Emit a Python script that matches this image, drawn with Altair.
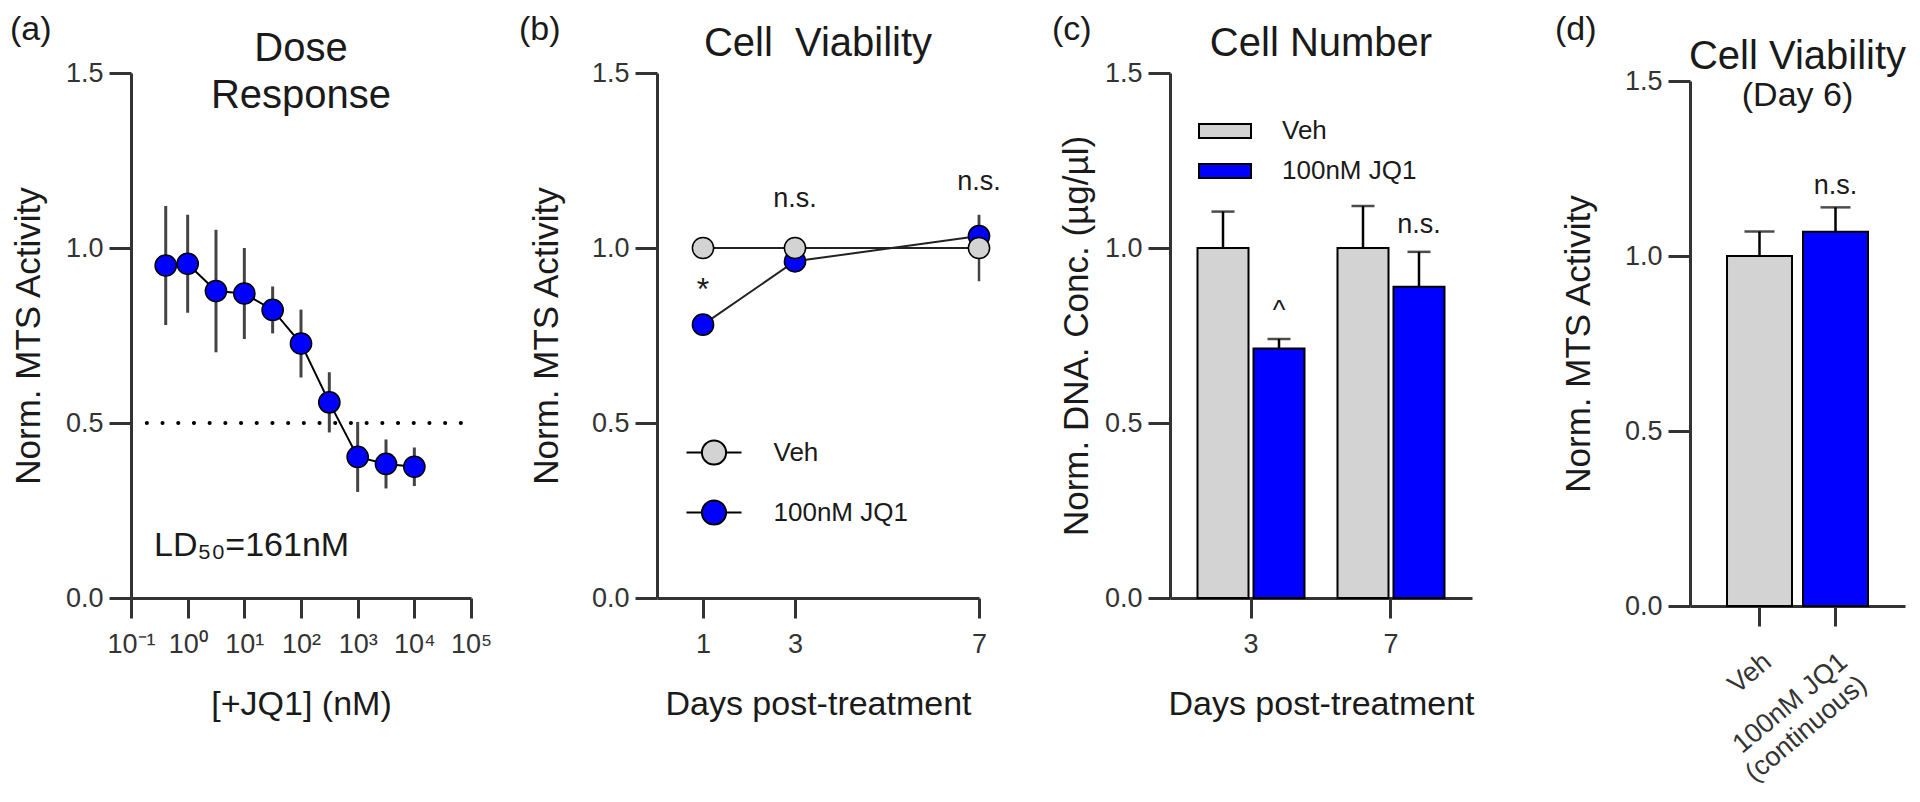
import altair as alt
import pandas as pd

SANS = "Liberation Sans, Arial, Helvetica, sans-serif"
INK = "#1a1a1a"
AXIS = "#333333"
GREY = "#d3d3d3"
BLUE = "#0000ff"

# ---------------- data ----------------
# (a) dose response
dose_nm = [0.41, 1.0, 3.16, 10.0, 31.6, 100.0, 316.0, 1000.0, 3162.0, 10000.0]
dose_mts = [0.950, 0.955, 0.877, 0.870, 0.823, 0.727, 0.559, 0.403, 0.383, 0.375]
dose_sd = [0.170, 0.140, 0.175, 0.130, 0.067, 0.097, 0.086, 0.100, 0.070, 0.055]
half_line_x = [0.19, 68000.0]
half_line_y = [0.5, 0.5]
dose_ticks = [0.1, 1, 10, 100, 1000, 10000, 100000]
dose_tick_labels = ["10⁻¹", "10⁰", "10¹", "10²", "10³", "10⁴", "10⁵"]
ld50_text = ["LD₅₀=161nM"]
ld50_x = [0.255]
ld50_y = [0.149]

# (b) cell viability time course
series = ["Veh", "100nM JQ1"]
days = [1, 3, 7]
veh_mts = [1.0, 1.0, 1.0]
veh_sd = [0.02, 0.02, 0.095]
jq1_mts = [0.781, 0.962, 1.034]
jq1_sd = [0.015, 0.02, 0.06]
b_star_day = [1]
b_star_y = [0.88]
b_ns_day = [3, 7]
b_ns_y = [1.14, 1.19]

# (c) cell number
cn_days = ["3", "7"]
cn_veh = [1.0, 1.0]
cn_veh_sd = [0.104, 0.12]
cn_jq1 = [0.713, 0.889]
cn_jq1_sd = [0.027, 0.10]
c_note_day = ["3", "7"]
c_note_text = ["^", "n.s."]
c_note_y = [0.82, 1.067]

# (d) cell viability day 6
d_groups = ["Veh", "100nM JQ1|(continuous)"]
d_vals = [1.0, 1.069]
d_sd = [0.07, 0.07]
d_note_group = ["100nM JQ1|(continuous)"]
d_note_text = ["n.s."]
d_note_y = [1.2]

Y_TICKS = [0, 0.5, 1.0, 1.5]
PLOT_H = 525


# ---------------- helpers ----------------
def yscale():
    return alt.Scale(domain=[0, 1.5], nice=False)


def yaxis(title, pad):
    return alt.Axis(title=title, values=Y_TICKS, format=".1f", tickSize=22,
                    labelPadding=6, titlePadding=pad, titleFontSize=35)


def letter(txt, dx, dy):
    return alt.Chart(pd.DataFrame({"t": [txt]})).mark_text(
        align="left", baseline="alphabetic", fontSize=34, font=SANS, color=INK
    ).encode(text="t:N", x=alt.value(dx), y=alt.value(dy))


def title(text, offset, subtitle=None):
    kw = dict(text=text, font=SANS, fontSize=40, fontWeight="normal", color=INK,
              anchor="middle", frame="group", baseline="top", offset=offset,
              lineHeight=47)
    if subtitle:
        kw.update(subtitle=subtitle, subtitleFont=SANS, subtitleFontSize=34,
                  subtitleColor=INK, subtitlePadding=2, subtitleFontWeight="normal")
    return alt.TitleParams(**kw)


def spacer(w, h):
    return alt.Chart(pd.DataFrame({"v": [0]})).mark_point(opacity=0).encode(
        x=alt.X("v:Q", axis=None), y=alt.Y("v:Q", axis=None)
    ).properties(width=w, height=h)


XAX = dict(tickSize=20, labelPadding=13, titlePadding=30, titleFontSize=34,
           labelFlush=False, labelOverlap=False)

# ---------------- (a) ----------------
dfa = pd.DataFrame({"dose": dose_nm, "mts": dose_mts, "sd": dose_sd})
dfa["lo"] = dfa["mts"] - dfa["sd"]
dfa["hi"] = dfa["mts"] + dfa["sd"]

parts = [f"datum.value < {v * 3.1623:.6g} ? '{l}'" for v, l in zip(dose_ticks[:-1], dose_tick_labels[:-1])]
label_expr = " : ".join(parts + [f"'{dose_tick_labels[-1]}'"])

xa = alt.X("dose:Q", scale=alt.Scale(type="log", domain=[0.1, 100000], nice=False),
           axis=alt.Axis(title="[+JQ1] (nM)", values=dose_ticks, labelExpr=label_expr, **XAX))
ya_ax = yaxis("Norm. MTS Activity", 19)
ya = alt.Y("mts:Q", scale=yscale(), axis=ya_ax)

half_line = alt.Chart(pd.DataFrame({"dose": half_line_x, "mts": half_line_y})).mark_line(
    color="black", strokeWidth=4, strokeDash=[0.1, 15.6], strokeCap="round"
).encode(x=xa, y=ya)
err_a = alt.Chart(dfa).mark_rule(color="#444444", strokeWidth=3).encode(
    x=xa, y=alt.Y("lo:Q", scale=yscale(), axis=ya_ax), y2="hi:Q")
line_a = alt.Chart(dfa).mark_line(color="black", strokeWidth=2).encode(x=xa, y=ya)
pts_a = alt.Chart(dfa).mark_point(shape="circle", filled=True, size=450, fill=BLUE,
                                   stroke="black", strokeWidth=1.5, opacity=1).encode(x=xa, y=ya)
ld_txt = alt.Chart(pd.DataFrame({"dose": ld50_x, "mts": ld50_y, "t": ld50_text})).mark_text(
    align="left", baseline="middle", fontSize=34, font=SANS, color=INK
).encode(x=xa, y=ya, text="t:N")

panel_a = alt.layer(half_line, err_a, line_a, pts_a, ld_txt, letter("(a)", -121, -33)).properties(
    width=340, height=PLOT_H, title=title(["Dose", "Response"], -103))

# ---------------- (b) ----------------
rows = []
for s, vals, sds in [(series[1], jq1_mts, jq1_sd), (series[0], veh_mts, veh_sd)]:
    for d, v, e in zip(days, vals, sds):
        rows.append({"day": d, "mts": v, "lo": v - e, "hi": v + e, "grp": s})
dfb = pd.DataFrame(rows)

xb = alt.X("day:Q", scale=alt.Scale(domain=[0, 7], nice=False),
           axis=alt.Axis(title="Days post-treatment", values=days, format="d", **XAX))
yb_ax = yaxis("Norm. MTS Activity", 27)
yb = alt.Y("mts:Q", scale=yscale(), axis=yb_ax)

LINE_DOT = ("M-1,0L-0.44,0M0.44,0L1,0M-0.44,0A0.44,0.44,0,1,1,0.44,0"
            "A0.44,0.44,0,1,1,-0.44,0Z")
leg_b = alt.Legend(title=None, orient="none", legendX=28.5, legendY=351,
                   symbolType=LINE_DOT, symbolSize=3025, symbolStrokeColor="black",
                   symbolStrokeWidth=2, labelFontSize=26, labelFont=SANS, labelColor=INK,
                   labelOffset=31, rowPadding=15, padding=0)

err_b = alt.Chart(dfb).mark_rule(color="#444444", strokeWidth=2.5).encode(
    x=xb, y=alt.Y("lo:Q", scale=yscale(), axis=yb_ax), y2="hi:Q")
line_b = alt.Chart(dfb).mark_line(color="#222222", strokeWidth=2).encode(
    x=xb, y=yb, detail="grp:N")
pts_b = alt.Chart(dfb).mark_point(shape="circle", filled=True, size=450, stroke="black",
                                   strokeWidth=1.5, opacity=1).encode(
    x=xb, y=yb,
    fill=alt.Fill("grp:N", scale=alt.Scale(domain=series, range=[GREY, BLUE]), legend=leg_b))
star_b = alt.Chart(pd.DataFrame({"day": b_star_day, "mts": b_star_y, "t": ["*"]})).mark_text(
    fontSize=32, font=SANS, color=INK, baseline="middle").encode(x=xb, y=yb, text="t:N")
ns_b = alt.Chart(pd.DataFrame({"day": b_ns_day, "mts": b_ns_y, "t": ["n.s."] * len(b_ns_day)})).mark_text(
    fontSize=27, font=SANS, color=INK, baseline="middle").encode(x=xb, y=yb, text="t:N")

panel_b = alt.layer(err_b, line_b, pts_b, star_b, ns_b, letter("(b)", -138, -33)).properties(
    width=322, height=PLOT_H, title=title("Cell\u00a0 Viability", -51))

# ---------------- (c) ----------------
rows = []
for i, d in enumerate(cn_days):
    rows.append({"day": d, "grp": series[0], "val": cn_veh[i], "hi": cn_veh[i] + cn_veh_sd[i]})
    rows.append({"day": d, "grp": series[1], "val": cn_jq1[i], "hi": cn_jq1[i] + cn_jq1_sd[i]})
dfc = pd.DataFrame(rows)

xc = alt.X("day:N", scale=alt.Scale(domain=cn_days, paddingInner=0.2, paddingOuter=0.1786),
           axis=alt.Axis(title="Days post-treatment", labelAngle=0, ticks=True, **XAX))
xoc = alt.XOffset("grp:N", scale=alt.Scale(domain=series, paddingInner=0.089, paddingOuter=0.0446))
yc_ax = yaxis("Norm. DNA. Conc. (µg/µl)", 10)
yc = alt.Y("val:Q", scale=yscale(), axis=yc_ax)

RECT = "M-1,-0.27L1,-0.27L1,0.27L-1,0.27Z"
leg_c = alt.Legend(title=None, orient="none", legendX=28, legendY=31,
                   symbolType=RECT, symbolSize=2704, symbolStrokeColor="black",
                   symbolStrokeWidth=2, labelFontSize=26, labelFont=SANS, labelColor=INK,
                   labelOffset=30, rowPadding=0, padding=0)

bars_c = alt.Chart(dfc).mark_bar(stroke="black", strokeWidth=2).encode(
    x=xc, xOffset=xoc, y=yc,
    fill=alt.Fill("grp:N", scale=alt.Scale(domain=series, range=[GREY, BLUE]), legend=leg_c))
err_c = alt.Chart(dfc).mark_rule(color="black", strokeWidth=2.5).encode(
    x=xc, xOffset=xoc, y=yc, y2="hi:Q")
cap_c = alt.Chart(dfc).mark_tick(color="black", thickness=2.5, size=23).encode(
    x=xc, xOffset=xoc, y=alt.Y("hi:Q", scale=yscale(), axis=yc_ax))
note_c = alt.Chart(pd.DataFrame({"day": c_note_day, "grp": [series[1]] * 2,
                                 "val": c_note_y, "t": c_note_text})).mark_text(
    fontSize=27, font=SANS, color=INK, baseline="middle").encode(
    x=xc, xOffset=xoc, y=yc, text="t:N")

panel_c = alt.layer(bars_c, err_c, cap_c, note_c, letter("(c)", -118, -33)).properties(
    width=302, height=PLOT_H, title=title("Cell Number", -51))

# ---------------- (d) ----------------
dfd = pd.DataFrame({"grp": d_groups, "val": d_vals, "hi": [v + e for v, e in zip(d_vals, d_sd)]})
xd = alt.X("grp:N", scale=alt.Scale(domain=d_groups, paddingInner=0.145, paddingOuter=0.487),
           axis=alt.Axis(title=None, labelExpr="split(datum.label, '|')", labelAngle=320,
                         labelAlign="right", labelBaseline="top", labelPadding=22,
                         labelLineHeight=30, tickSize=20, labelFontSize=27, ticks=True))
yd_ax = yaxis("Norm. MTS Activity", 28)
yd = alt.Y("val:Q", scale=yscale(), axis=yd_ax)

bars_d = alt.Chart(dfd).mark_bar(stroke="black", strokeWidth=2).encode(
    x=xd, y=yd,
    fill=alt.Fill("grp:N", scale=alt.Scale(domain=d_groups, range=[GREY, BLUE]), legend=None))
err_d = alt.Chart(dfd).mark_rule(color="black", strokeWidth=2.5).encode(x=xd, y=yd, y2="hi:Q")
cap_d = alt.Chart(dfd).mark_tick(color="black", thickness=2.5, size=30).encode(
    x=xd, y=alt.Y("hi:Q", scale=yscale(), axis=yd_ax))
note_d = alt.Chart(pd.DataFrame({"grp": d_note_group, "val": d_note_y, "t": d_note_text})).mark_text(
    fontSize=27, font=SANS, color=INK, baseline="middle").encode(x=xd, y=yd, text="t:N")

panel_d = alt.layer(bars_d, err_d, cap_d, note_d, letter("(d)", -135, -41)).properties(
    width=215, height=PLOT_H, title=title("Cell Viability", -100, subtitle="(Day 6)"))


def indep(c):
    return c.resolve_scale(fill="independent").resolve_legend(fill="independent")


col_d = indep(alt.vconcat(spacer(215, 8), panel_d, spacing=0, bounds="flush"))
chart = indep(alt.hconcat(panel_a, spacer(186, PLOT_H), panel_b, spacer(191, PLOT_H),
                          panel_c, spacer(218, PLOT_H), col_d, spacing=0, bounds="flush"))

chart = chart.properties(
    padding={"left": 2, "top": 5, "right": 5, "bottom": 2}
).configure(font=SANS).configure_view(stroke=None).configure_axis(
    domainColor=AXIS, domainWidth=3, tickColor=AXIS, tickWidth=3,
    labelFont=SANS, labelFontSize=27, labelColor=AXIS,
    titleFont=SANS, titleColor=INK, titleFontWeight="normal", grid=False
)

chart.save("out.html", embed_options={"renderer": "svg", "actions": False})
